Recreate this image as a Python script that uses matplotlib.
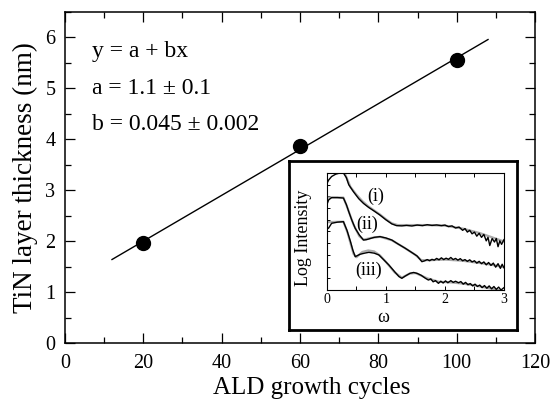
import numpy as np
import matplotlib
matplotlib.use("Agg")
import matplotlib.pyplot as plt

plt.rcParams['font.family'] = ['Liberation Serif', 'DejaVu Serif']

# Données principales : épaisseur TiN vs nombre de cycles ALD
cycles = [20, 60, 100]
epaisseur = [1.97, 3.87, 5.55]

# Droite d'ajustement y = a + bx (extrémités)
fit_x = [12, 108]
fit_y = [1.64, 5.96]

# Encart : courbes de réflectivité (log intensité vs omega)
om_i = [0.00, 0.03, 0.08, 0.15, 0.22, 0.28, 0.33, 0.37, 0.45, 0.54, 0.62, 0.71, 0.80, 0.90,
        1.00, 1.10, 1.18, 1.27, 1.35, 1.44, 1.53, 1.62, 1.70, 1.78, 1.86, 1.94, 2.00, 2.06,
        2.12, 2.18, 2.24, 2.30, 2.34, 2.38, 2.42, 2.46, 2.50, 2.54, 2.58, 2.62, 2.66, 2.70,
        2.73, 2.76, 2.80, 2.84, 2.87, 2.90, 2.93, 2.96, 3.00]
li_i = [9.1, 9.4, 9.7, 9.9, 10.0, 10.0, 9.6, 9.0, 8.4, 7.8, 7.4, 7.05, 6.75, 6.4,
        6.0, 5.65, 5.5, 5.48, 5.52, 5.47, 5.55, 5.5, 5.58, 5.52, 5.56, 5.5, 5.55, 5.42,
        5.48, 5.3, 5.38, 5.1, 5.25, 4.95, 5.1, 4.8, 4.95, 4.6, 4.85, 4.5, 4.75, 4.2,
        4.5, 3.8, 4.4, 4.1, 4.4, 3.7, 4.2, 3.9, 4.3]
fit_om_i = [0.30, 0.40, 0.50, 0.60, 0.70, 0.80, 0.90, 1.00, 1.10, 1.20, 1.40, 1.70, 2.00,
            2.30, 2.60, 2.80, 3.00]
fit_li_i = [10.0, 8.8, 8.15, 7.6, 7.15, 6.8, 6.45, 6.05, 5.7, 5.55, 5.55, 5.55, 5.5,
            5.25, 4.85, 4.5, 4.15]

om_ii = [0.00, 0.03, 0.08, 0.18, 0.28, 0.33, 0.37, 0.42, 0.48, 0.55, 0.62, 0.67, 0.71, 0.80,
         0.90, 1.00, 1.10, 1.20, 1.33, 1.44, 1.53, 1.61, 1.66, 1.70, 1.74, 1.78, 1.82, 1.86,
         1.90, 1.94, 1.98, 2.02, 2.06, 2.10, 2.14, 2.18, 2.22, 2.26, 2.30, 2.34, 2.38, 2.42,
         2.46, 2.50, 2.54, 2.58, 2.62, 2.66, 2.70, 2.74, 2.78, 2.82, 2.86, 2.90, 2.94, 2.97, 3.00]
li_ii = [7.3, 7.7, 7.9, 7.9, 7.86, 7.3, 6.7, 6.0, 5.27, 4.7, 4.27, 4.3, 4.36, 4.5,
         4.56, 4.45, 4.27, 3.95, 3.56, 3.2, 2.9, 2.42, 2.5, 2.6, 2.5, 2.62, 2.55, 2.7,
         2.58, 2.75, 2.6, 2.72, 2.62, 2.78, 2.6, 2.7, 2.55, 2.68, 2.5, 2.6, 2.45, 2.58,
         2.4, 2.5, 2.3, 2.45, 2.25, 2.4, 2.15, 2.35, 2.1, 2.3, 1.95, 2.25, 1.85, 2.2, 1.9]
fit_om_ii = [0.00, 0.28, 0.35, 0.45, 0.55, 0.62, 0.75, 0.90, 1.10, 1.30, 1.50, 1.60, 1.75,
             2.00, 2.30, 2.60, 2.80, 3.00]
fit_li_ii = [7.9, 7.9, 7.0, 5.6, 4.6, 4.3, 4.45, 4.55, 4.25, 3.65, 3.0, 2.55, 2.55,
             2.6, 2.5, 2.3, 2.15, 1.95]

om_iii = [0.00, 0.03, 0.08, 0.18, 0.28, 0.34, 0.40, 0.44, 0.48, 0.52, 0.56, 0.64, 0.71, 0.80,
          0.88, 0.96, 1.05, 1.15, 1.22, 1.27, 1.33, 1.41, 1.47, 1.53, 1.60, 1.67, 1.72, 1.76,
          1.80, 1.84, 1.89, 1.93, 1.97, 2.01, 2.05, 2.10, 2.14, 2.18, 2.23, 2.27, 2.31, 2.35,
          2.39, 2.43, 2.47, 2.51, 2.55, 2.59, 2.63, 2.67, 2.71, 2.75, 2.79, 2.83, 2.87, 2.91,
          2.95, 3.00]
li_iii = [5.2, 5.3, 5.7, 5.8, 5.84, 5.1, 4.13, 3.4, 2.85, 2.95, 3.05, 3.15, 3.22, 3.15,
          3.0, 2.6, 2.14, 1.55, 1.15, 1.0, 1.2, 1.43, 1.5, 1.42, 1.25, 1.0, 0.85, 0.95,
          0.7, 0.8, 0.57, 0.75, 0.6, 0.78, 0.62, 0.8, 0.65, 0.75, 0.62, 0.72, 0.5, 0.65,
          0.45, 0.55, 0.35, 0.5, 0.3, 0.42, 0.2, 0.38, 0.15, 0.35, 0.1, 0.3, 0.05, 0.25,
          0.0, 0.2]
fit_om_iii = [0.00, 0.28, 0.35, 0.45, 0.50, 0.60, 0.70, 0.80, 0.90, 1.00, 1.15, 1.27, 1.40,
              1.50, 1.70, 1.90, 2.10, 2.30, 2.50, 2.70, 2.90, 3.00]
fit_li_iii = [5.8, 5.84, 4.9, 3.1, 2.8, 3.25, 3.38, 3.3, 2.95, 2.4, 1.5, 1.05, 1.4,
              1.45, 1.0, 0.7, 0.65, 0.55, 0.4, 0.2, 0.0, -0.1]

fig = plt.figure(figsize=(5.55, 4.01), dpi=100)

# --- Graphique principal ---
ax = fig.add_axes([0.1171, 0.1446, 0.8469, 0.8254])
ax.plot(fit_x, fit_y, color='black', lw=1.0, zorder=2)
ax.plot(cycles, epaisseur, 'o', color='black', ms=10, zorder=3)

ax.set_xlim(0, 120)
ax.set_ylim(0, 6.5)
ax.set_xticks(np.arange(0, 121, 20))
ax.set_xticks(np.arange(0, 121, 10), minor=True)
ax.set_yticks(np.arange(0, 7, 1))
ax.set_yticks(np.arange(0, 6.6, 0.5), minor=True)
ax.tick_params(which='both', direction='in', top=True, right=True, width=0.9, labelsize=14.5)
ax.tick_params(which='major', length=7)
ax.tick_params(which='minor', length=4)
ax.tick_params(axis='x', pad=8)
ax.tick_params(axis='y', pad=7)
for s in ax.spines.values():
    s.set_linewidth(1.1)

ax.set_xlabel('ALD growth cycles', fontsize=18, labelpad=0)
ax.xaxis.set_label_coords(0.525, -0.102)
ax.set_ylabel('TiN layer thickness (nm)', fontsize=19.5, labelpad=5)

ax.text(6.9, 5.62, 'y = a + bx', fontsize=17, va='baseline')
ax.text(6.9, 4.89, 'a = 1.1 ± 0.1', fontsize=17, va='baseline')
ax.text(6.9, 4.18, 'b = 0.045 ± 0.002', fontsize=17, va='baseline')

# --- Cadre de l'encart ---
box = fig.add_axes([0.5207, 0.1771, 0.4108, 0.4214])
box.set_xticks([])
box.set_yticks([])
for s in box.spines.values():
    s.set_linewidth(2.0)

# --- Encart ---
ins = fig.add_axes([0.589, 0.2768, 0.319, 0.2918])
ins.plot(fit_om_i, fit_li_i, color='#aaaaaa', lw=1.6)
ins.plot(fit_om_ii, fit_li_ii, color='#aaaaaa', lw=1.6)
ins.plot(fit_om_iii, fit_li_iii, color='#aaaaaa', lw=1.6)
ins.plot(om_i, li_i, color='black', lw=1.0)
ins.plot(om_ii, li_ii, color='black', lw=1.0)
ins.plot(om_iii, li_iii, color='black', lw=1.0)

ins.set_xlim(0, 3)
ins.set_ylim(0, 10)
ins.set_xticks(np.arange(0, 3.01, 0.5))
ins.set_xticklabels(['0', '', '1', '', '2', '', '3'])
ins.set_yticks(np.arange(0, 10.1, 1))
ins.set_yticklabels([])
ins.tick_params(direction='in', top=True, length=3, width=0.7, labelsize=10, pad=2)
ins.tick_params(axis='y', length=2)
for s in ins.spines.values():
    s.set_linewidth(0.8)

ins.set_xlabel('ω', fontsize=13, labelpad=0)
ins.xaxis.set_label_coords(0.316, -0.16)
ins.set_ylabel('Log Intensity', fontsize=13, labelpad=0)
ins.yaxis.set_label_coords(-0.085, 0.45)

ins.text(0.82, 8.0, '(i)', fontsize=13, ha='center', va='center')
ins.text(0.68, 5.6, '(ii)', fontsize=13, ha='center', va='center')
ins.text(0.70, 1.7, '(iii)', fontsize=13, ha='center', va='center')

fig.savefig('out.png', dpi=100)
